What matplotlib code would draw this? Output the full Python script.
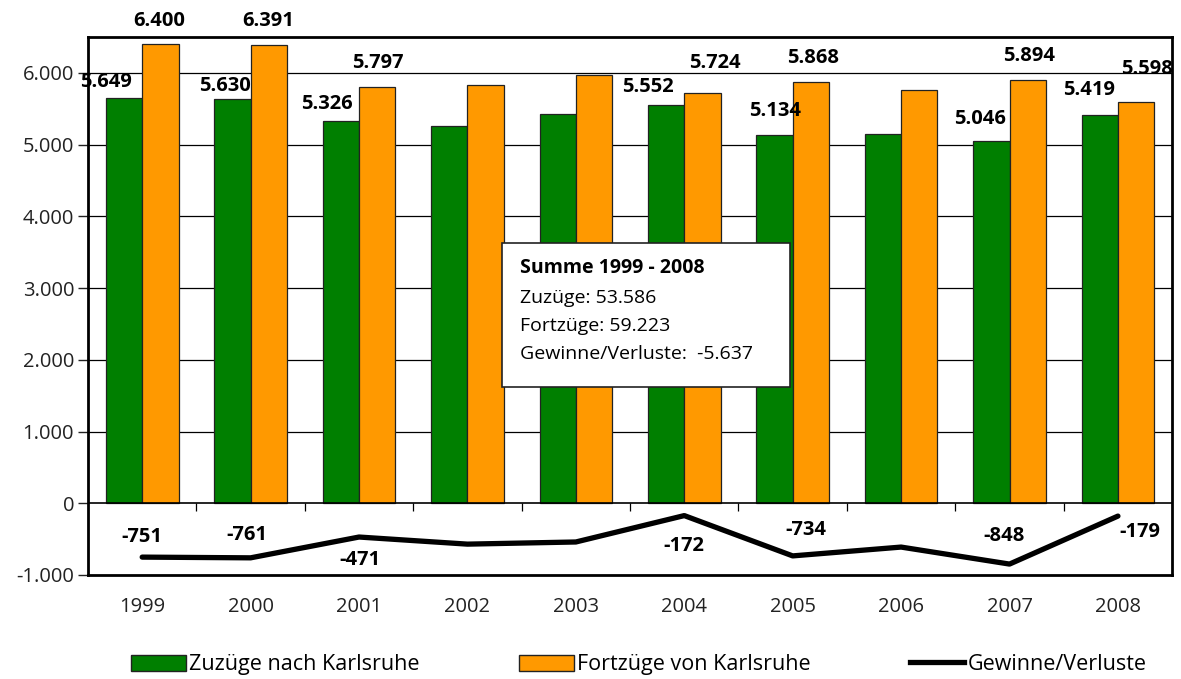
import numpy as np
import matplotlib
matplotlib.use("Agg")
import matplotlib.pyplot as plt
from matplotlib.patches import Patch, Rectangle
from matplotlib.lines import Line2D
from matplotlib.ticker import FuncFormatter

plt.rcParams['font.family'] = ['Open Sans', 'DejaVu Sans']

years = ["1999", "2000", "2001", "2002", "2003", "2004", "2005", "2006", "2007", "2008"]
zuzuege = [5649, 5630, 5326, 5260, 5425, 5552, 5134, 5145, 5046, 5419]
fortzuege = [6400, 6391, 5797, 5830, 5965, 5724, 5868, 5756, 5894, 5598]
saldo = [z - f for z, f in zip(zuzuege, fortzuege)]

# which years carry a value label (the others are hidden in the original)
labelled = [True, True, True, False, False, True, True, False, True, True]

# label positions (x in category units, y in data units), placed as in the original
zu_lab_pos = [(-0.33, 5876), (0.76, 5820), (1.70, 5560), None, None,
              (4.66, 5798), (5.84, 5467), None, (7.73, 5356), (8.73, 5760)]
fo_lab_pos = [(0.16, 6727), (1.16, 6727), (2.17, 6137), None, None,
              (5.28, 6132), (6.19, 6206), None, (8.18, 6234), (9.27, 6053)]
sa_lab_pos = [(0.0, -474), (0.97, -442), (2.01, -791), None, None,
              (5.0, -591), (6.12, -372), None, (7.95, -456), (9.2, -405)]

green = "#007F00"
orange = "#FF9900"


def fmt(v):
    return f"{v:,.0f}".replace(",", ".")


fig = plt.figure(figsize=(11.81, 6.79), dpi=100)
ax = fig.add_axes([0.0745, 0.1532, 0.918, 0.7923])

x = np.arange(len(years))
w = 0.335
ax.bar(x - w / 2, zuzuege, w, color=green, edgecolor="#222222", linewidth=0.9, zorder=3)
ax.bar(x + w / 2, fortzuege, w, color=orange, edgecolor="#222222", linewidth=0.9, zorder=3)
ax.plot(x, saldo, color="black", linewidth=3.8, solid_capstyle="round", zorder=4)

ax.set_xlim(-0.5, len(years) - 0.5)
ax.set_ylim(-1000, 6500)

# grid and zero line
for gy in range(1000, 7000, 1000):
    ax.axhline(gy, color="black", linewidth=0.9, zorder=1)
ax.axhline(0, color="black", linewidth=1.2, zorder=5)
ax.vlines(x[:-1] + 0.5, -110, 0, color="black", linewidth=0.9, zorder=5)

ax.set_yticks(range(-1000, 7000, 1000))
ax.yaxis.set_major_formatter(FuncFormatter(lambda v, p: fmt(v)))
ax.tick_params(axis="y", length=7, width=1, labelsize=14.5, pad=3, colors="#222222")
ax.set_xticks(x)
ax.set_xticklabels(years)
ax.tick_params(axis="x", length=0, labelsize=14.5, pad=16, colors="#222222")
for s in ax.spines.values():
    s.set_linewidth(2)
    s.set_color("black")

# value labels
for i in range(len(years)):
    if not labelled[i]:
        continue
    for pos, val in ((zu_lab_pos[i], zuzuege[i]), (fo_lab_pos[i], fortzuege[i]), (sa_lab_pos[i], saldo[i])):
        ax.text(pos[0], pos[1], fmt(val), ha="center", va="center", fontsize=14.5,
                fontweight="bold", color="black", zorder=6)

# summary box
box = Rectangle((0.425, 0.430), 0.244, 0.212, transform=fig.transFigure,
                facecolor="white", edgecolor="#222222", linewidth=1.2, zorder=10)
fig.patches.append(box)
fig.text(0.440, 0.605, f"Summe {years[0]} - {years[-1]}", fontsize=14, fontweight="bold",
         va="center", zorder=11)
fig.text(0.440, 0.561, f"Zuzüge: {fmt(sum(zuzuege))}", fontsize=14, va="center", zorder=11)
fig.text(0.440, 0.520, f"Fortzüge: {fmt(sum(fortzuege))}", fontsize=14, va="center", zorder=11)
fig.text(0.440, 0.479, f"Gewinne/Verluste:  {fmt(sum(saldo))}", fontsize=14, va="center", zorder=11)

handles = [Patch(facecolor=green, edgecolor="#222222", label="Zuzüge nach Karlsruhe"),
           Patch(facecolor=orange, edgecolor="#222222", label="Fortzüge von Karlsruhe"),
           Line2D([0], [0], color="black", linewidth=3.8, label="Gewinne/Verluste")]
fig.legend(handles=handles, ncol=3, loc="center", bbox_to_anchor=(0.541, 0.021), frameon=False,
           fontsize=15.5, handlelength=2.55, handleheight=0.8, handletextpad=0.15, columnspacing=4.6)

fig.savefig("out.png", dpi=100)
